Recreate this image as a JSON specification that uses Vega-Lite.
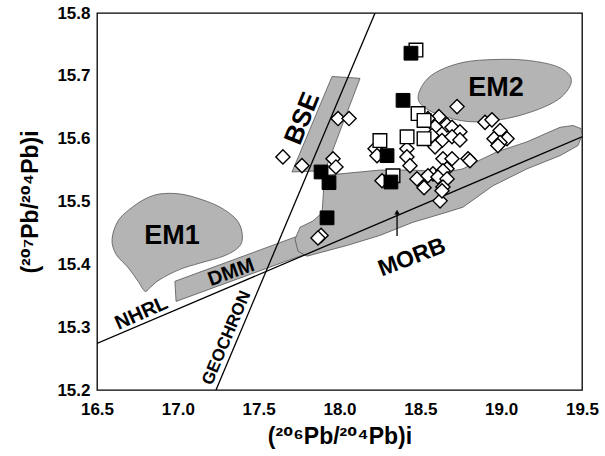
{
  "$schema": "https://vega.github.io/schema/vega-lite/v6.json",
  "width": 485,
  "height": 377,
  "autosize": {"type": "none"},
  "padding": {"left": 97, "top": 13, "right": 23, "bottom": 66},
  "background": "white",
  "config": {
    "view": {"stroke": "black", "strokeWidth": 1.3},
    "axis": {
      "labelFont": "Liberation Sans", "labelFontWeight": "bold", "labelFontSize": 17, "labelColor": "black",
      "titleFont": "Liberation Sans, DejaVu Sans", "titleFontWeight": "bold", "titleFontSize": 23, "titleColor": "black",
      "domain": false, "ticks": false, "grid": false, "labelFlush": false
    }
  },
  "datasets": {
    "fields": [
      {"field": "BSE", "o": 1, "x": 17.706, "y": 15.547},
      {"field": "BSE", "o": 2, "x": 17.954, "y": 15.699},
      {"field": "BSE", "o": 3, "x": 18.127, "y": 15.696},
      {"field": "BSE", "o": 4, "x": 17.91, "y": 15.549},
      {"field": "DMM", "o": 1, "x": 16.982, "y": 15.373},
      {"field": "DMM", "o": 2, "x": 17.774, "y": 15.448},
      {"field": "DMM", "o": 3, "x": 17.787, "y": 15.416},
      {"field": "DMM", "o": 4, "x": 16.989, "y": 15.341},
      {"field": "MORB", "o": 1, "x": 17.923, "y": 15.542},
      {"field": "MORB", "o": 2, "x": 18.25, "y": 15.55},
      {"field": "MORB", "o": 3, "x": 18.455, "y": 15.55},
      {"field": "MORB", "o": 4, "x": 18.665, "y": 15.547},
      {"field": "MORB", "o": 5, "x": 18.764, "y": 15.552},
      {"field": "MORB", "o": 6, "x": 18.869, "y": 15.566},
      {"field": "MORB", "o": 7, "x": 18.974, "y": 15.579},
      {"field": "MORB", "o": 8, "x": 19.16, "y": 15.595},
      {"field": "MORB", "o": 9, "x": 19.364, "y": 15.618},
      {"field": "MORB", "o": 10, "x": 19.444, "y": 15.621},
      {"field": "MORB", "o": 11, "x": 19.494, "y": 15.616},
      {"field": "MORB", "o": 12, "x": 19.5, "y": 15.605},
      {"field": "MORB", "o": 13, "x": 19.475, "y": 15.589},
      {"field": "MORB", "o": 14, "x": 19.364, "y": 15.573},
      {"field": "MORB", "o": 15, "x": 19.16, "y": 15.552},
      {"field": "MORB", "o": 16, "x": 18.949, "y": 15.525},
      {"field": "MORB", "o": 17, "x": 18.764, "y": 15.491},
      {"field": "MORB", "o": 18, "x": 18.665, "y": 15.483},
      {"field": "MORB", "o": 19, "x": 18.455, "y": 15.467},
      {"field": "MORB", "o": 20, "x": 18.25, "y": 15.446},
      {"field": "MORB", "o": 21, "x": 18.046, "y": 15.43},
      {"field": "MORB", "o": 22, "x": 17.799, "y": 15.413},
      {"field": "MORB", "o": 23, "x": 17.743, "y": 15.421},
      {"field": "MORB", "o": 24, "x": 17.725, "y": 15.44},
      {"field": "MORB", "o": 25, "x": 17.756, "y": 15.459},
      {"field": "MORB", "o": 26, "x": 17.836, "y": 15.469},
      {"field": "MORB", "o": 27, "x": 17.892, "y": 15.482},
      {"field": "MORB", "o": 28, "x": 17.898, "y": 15.504},
      {"field": "MORB", "o": 29, "x": 17.904, "y": 15.53}
    ],
    "ellipses": [
      {"field": "EM1", "o": 1, "x": 16.593, "y": 15.44},
      {"field": "EM1", "o": 2, "x": 16.63, "y": 15.469},
      {"field": "EM1", "o": 3, "x": 16.704, "y": 15.488},
      {"field": "EM1", "o": 4, "x": 16.797, "y": 15.504},
      {"field": "EM1", "o": 5, "x": 16.89, "y": 15.512},
      {"field": "EM1", "o": 6, "x": 17.013, "y": 15.512},
      {"field": "EM1", "o": 7, "x": 17.137, "y": 15.504},
      {"field": "EM1", "o": 8, "x": 17.261, "y": 15.491},
      {"field": "EM1", "o": 9, "x": 17.36, "y": 15.472},
      {"field": "EM1", "o": 10, "x": 17.397, "y": 15.451},
      {"field": "EM1", "o": 11, "x": 17.385, "y": 15.43},
      {"field": "EM1", "o": 12, "x": 17.292, "y": 15.414},
      {"field": "EM1", "o": 13, "x": 17.137, "y": 15.402},
      {"field": "EM1", "o": 14, "x": 17.013, "y": 15.392},
      {"field": "EM1", "o": 15, "x": 16.89, "y": 15.376},
      {"field": "EM1", "o": 16, "x": 16.828, "y": 15.363},
      {"field": "EM1", "o": 17, "x": 16.797, "y": 15.357},
      {"field": "EM1", "o": 18, "x": 16.754, "y": 15.373},
      {"field": "EM1", "o": 19, "x": 16.692, "y": 15.395},
      {"field": "EM1", "o": 20, "x": 16.618, "y": 15.416},
      {"field": "EM2", "o": 1, "x": 18.486, "y": 15.664},
      {"field": "EM2", "o": 2, "x": 18.529, "y": 15.691},
      {"field": "EM2", "o": 3, "x": 18.622, "y": 15.709},
      {"field": "EM2", "o": 4, "x": 18.776, "y": 15.722},
      {"field": "EM2", "o": 5, "x": 18.962, "y": 15.726},
      {"field": "EM2", "o": 6, "x": 19.147, "y": 15.725},
      {"field": "EM2", "o": 7, "x": 19.321, "y": 15.717},
      {"field": "EM2", "o": 8, "x": 19.413, "y": 15.704},
      {"field": "EM2", "o": 9, "x": 19.432, "y": 15.688},
      {"field": "EM2", "o": 10, "x": 19.376, "y": 15.667},
      {"field": "EM2", "o": 11, "x": 19.271, "y": 15.651},
      {"field": "EM2", "o": 12, "x": 19.116, "y": 15.637},
      {"field": "EM2", "o": 13, "x": 18.962, "y": 15.629},
      {"field": "EM2", "o": 14, "x": 18.807, "y": 15.627},
      {"field": "EM2", "o": 15, "x": 18.665, "y": 15.634},
      {"field": "EM2", "o": 16, "x": 18.547, "y": 15.646}
    ],
    "lines": [
      {"line": "NHRL", "x": 16.5, "y": 15.274},
      {"line": "NHRL", "x": 19.5, "y": 15.603},
      {"line": "GEOCHRON", "x": 17.236, "y": 15.2},
      {"line": "GEOCHRON", "x": 18.22, "y": 15.8}
    ],
    "xticks": [
      {"x": 16.5}, {"x": 16.75}, {"x": 17}, {"x": 17.25}, {"x": 17.5}, {"x": 17.75}, {"x": 18},
      {"x": 18.25}, {"x": 18.5}, {"x": 18.75}, {"x": 19}, {"x": 19.25}, {"x": 19.5}
    ],
    "yticks": [
      {"y": 15.2}, {"y": 15.25}, {"y": 15.3}, {"y": 15.35}, {"y": 15.4}, {"y": 15.45}, {"y": 15.5},
      {"y": 15.55}, {"y": 15.6}, {"y": 15.65}, {"y": 15.7}, {"y": 15.75}, {"y": 15.8}
    ],
    "diamonds": [
      {"x": 17.65, "y": 15.571}, {"x": 17.768, "y": 15.557}, {"x": 17.991, "y": 15.632}, {"x": 18.059, "y": 15.632},
      {"x": 17.96, "y": 15.568}, {"x": 17.978, "y": 15.555}, {"x": 17.886, "y": 15.446}, {"x": 17.867, "y": 15.442},
      {"x": 18.22, "y": 15.584}, {"x": 18.232, "y": 15.573}, {"x": 18.263, "y": 15.533}, {"x": 18.417, "y": 15.584},
      {"x": 18.417, "y": 15.571}, {"x": 18.436, "y": 15.557}, {"x": 18.479, "y": 15.536}, {"x": 18.523, "y": 15.522},
      {"x": 18.622, "y": 15.501}, {"x": 18.727, "y": 15.651}, {"x": 18.615, "y": 15.635}, {"x": 18.665, "y": 15.622},
      {"x": 18.591, "y": 15.619}, {"x": 18.696, "y": 15.618}, {"x": 18.745, "y": 15.611}, {"x": 18.634, "y": 15.597},
      {"x": 18.591, "y": 15.587}, {"x": 18.696, "y": 15.603}, {"x": 18.745, "y": 15.598}, {"x": 18.64, "y": 15.568},
      {"x": 18.696, "y": 15.568}, {"x": 18.665, "y": 15.552}, {"x": 18.795, "y": 15.568}, {"x": 18.578, "y": 15.544},
      {"x": 18.547, "y": 15.541}, {"x": 18.64, "y": 15.549}, {"x": 18.609, "y": 15.539}, {"x": 18.665, "y": 15.536},
      {"x": 18.64, "y": 15.523}, {"x": 18.634, "y": 15.517}, {"x": 18.9, "y": 15.626}, {"x": 18.943, "y": 15.63},
      {"x": 18.993, "y": 15.613}, {"x": 19.036, "y": 15.6}, {"x": 18.956, "y": 15.6}, {"x": 18.993, "y": 15.594},
      {"x": 18.98, "y": 15.589}, {"x": 18.807, "y": 15.565}, {"x": 18.572, "y": 15.605}, {"x": 18.547, "y": 15.632}
    ],
    "openSquares": [
      {"x": 18.473, "y": 15.741}, {"x": 18.486, "y": 15.64}, {"x": 18.523, "y": 15.629}, {"x": 18.418, "y": 15.603},
      {"x": 18.523, "y": 15.6}, {"x": 18.25, "y": 15.597}, {"x": 18.331, "y": 15.541}
    ],
    "blackSquares": [
      {"x": 18.442, "y": 15.736}, {"x": 18.393, "y": 15.661}, {"x": 18.294, "y": 15.573}, {"x": 18.318, "y": 15.531},
      {"x": 17.886, "y": 15.547}, {"x": 17.935, "y": 15.53}, {"x": 17.923, "y": 15.474}
    ]
  },
  "encoding": {
    "x": {"field": "x", "type": "quantitative", "scale": {"domain": [16.5, 19.5], "nice": false, "zero": false},
      "axis": {"title": "(²⁰⁶Pb/²⁰⁴Pb)i", "titlePadding": 8, "labelPadding": 11,
        "values": [16.5, 17, 17.5, 18, 18.5, 19, 19.5], "format": ".1f"}},
    "y": {"field": "y", "type": "quantitative", "scale": {"domain": [15.2, 15.8], "nice": false, "zero": false},
      "axis": {"title": "(²⁰⁷Pb/²⁰⁴Pb)i", "titlePadding": 14, "labelPadding": 7,
        "values": [15.2, 15.3, 15.4, 15.5, 15.6, 15.7, 15.8], "format": ".1f"}}
  },
  "layer": [
    {
      "data": {"name": "ellipses"},
      "mark": {"type": "line", "interpolate": "cardinal-closed", "fill": "#b4b4b4", "stroke": "#555555", "strokeWidth": 0.8, "clip": true},
      "encoding": {"detail": {"field": "field"}, "order": {"field": "o", "type": "quantitative"}}
    },
    {
      "data": {"name": "fields"},
      "mark": {"type": "line", "interpolate": "linear-closed", "fill": "#b4b4b4", "stroke": "#555555", "strokeWidth": 0.8, "clip": true},
      "encoding": {"detail": {"field": "field"}, "order": {"field": "o", "type": "quantitative"}}
    },
    {
      "data": {"name": "lines"},
      "mark": {"type": "line", "color": "black", "strokeWidth": 1.3, "clip": true},
      "encoding": {"detail": {"field": "line"}}
    },
    {
      "data": {"name": "xticks"},
      "mark": {"type": "tick", "orient": "vertical", "size": 12, "thickness": 1.3, "color": "black", "opacity": 1, "clip": true},
      "encoding": {"y": {"datum": 15.2}}
    },
    {
      "data": {"name": "yticks"},
      "mark": {"type": "tick", "orient": "horizontal", "size": 12, "thickness": 1.3, "color": "black", "opacity": 1, "clip": true},
      "encoding": {"x": {"datum": 16.5}}
    },
    {
      "data": {"values": [{"x": 18.356, "y": 15.445, "y2": 15.48}]},
      "mark": {"type": "rule", "color": "black", "strokeWidth": 1.3},
      "encoding": {"y2": {"field": "y2"}}
    },
    {
      "data": {"values": [{"x": 18.356, "y": 15.483}]},
      "mark": {"type": "point", "shape": "triangle-up", "filled": true, "color": "black", "size": 30, "opacity": 1}
    },
    {
      "data": {"name": "diamonds"},
      "mark": {"type": "point", "shape": "diamond", "filled": true, "fill": "white", "stroke": "black", "strokeWidth": 1.4, "size": 200, "opacity": 1}
    },
    {
      "data": {"name": "openSquares"},
      "mark": {"type": "point", "shape": "square", "filled": true, "fill": "white", "stroke": "black", "strokeWidth": 1.4, "size": 185, "opacity": 1}
    },
    {
      "data": {"name": "blackSquares"},
      "mark": {"type": "point", "shape": "square", "filled": true, "fill": "black", "stroke": "black", "strokeWidth": 1, "size": 190, "opacity": 1}
    },
    {
      "data": {"values": [{"label": "EM1", "x": 16.964, "y": 15.445}]},
      "mark": {"type": "text", "font": "Liberation Sans", "fontWeight": "bold", "fontSize": 27, "color": "black"},
      "encoding": {"text": {"field": "label"}}
    },
    {
      "data": {"values": [{"label": "EM2", "x": 18.968, "y": 15.68}]},
      "mark": {"type": "text", "font": "Liberation Sans", "fontWeight": "bold", "fontSize": 27, "color": "black"},
      "encoding": {"text": {"field": "label"}}
    },
    {
      "data": {"values": [{"label": "BSE", "x": 17.77, "y": 15.632}]},
      "mark": {"type": "text", "font": "Liberation Sans", "fontWeight": "bold", "fontSize": 26, "angle": 292, "color": "black"},
      "encoding": {"text": {"field": "label"}}
    },
    {
      "data": {"values": [{"label": "DMM", "x": 17.33, "y": 15.387}]},
      "mark": {"type": "text", "font": "Liberation Sans", "fontWeight": "bold", "fontSize": 20, "angle": 340, "color": "black"},
      "encoding": {"text": {"field": "label"}}
    },
    {
      "data": {"values": [{"label": "NHRL", "x": 16.775, "y": 15.322}]},
      "mark": {"type": "text", "font": "Liberation Sans", "fontWeight": "bold", "fontSize": 20, "angle": 336, "color": "black"},
      "encoding": {"text": {"field": "label"}}
    },
    {
      "data": {"values": [{"label": "GEOCHRON", "x": 17.302, "y": 15.283}]},
      "mark": {"type": "text", "font": "Liberation Sans", "fontWeight": "bold", "fontSize": 17, "angle": 293, "color": "black"},
      "encoding": {"text": {"field": "label"}}
    },
    {
      "data": {"values": [{"label": "MORB", "x": 18.448, "y": 15.411}]},
      "mark": {"type": "text", "font": "Liberation Sans", "fontWeight": "bold", "fontSize": 23, "angle": 339, "color": "black"},
      "encoding": {"text": {"field": "label"}}
    }
  ]
}
